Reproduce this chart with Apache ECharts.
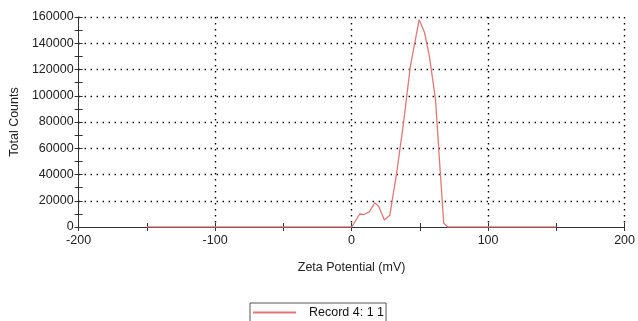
<!DOCTYPE html>
<html><head><meta charset="utf-8">
<script src="https://cdn.jsdelivr.net/npm/echarts@6/dist/echarts.min.js"></script>
<style>html,body{margin:0;padding:0;background:#fff}#c{width:638px;height:321px}</style>
</head><body><div id="c"></div>
<script>
const zeta = [-150, 0, 6, 9, 13, 17, 20, 24, 28, 33, 38, 43, 49.5, 53.5, 57, 61.5, 64.5, 67.5, 70.5, 150];
const counts = [0, 0, 9900, 9500, 11500, 18500, 15500, 5300, 8900, 41000, 79000, 122000, 158000, 148000, 130000, 97000, 49000, 3000, 0, 0];
const xTicks = [-200, -100, 0, 100, 200];
const seriesName = 'Record 4: 1 1';

const data = zeta.map((x, i) => [x, counts[i]]);
const font = 'Liberation Sans, Arial, sans-serif';
const dotted = {color: '#000', width: 1.4, type: [1.4, 4.6]};
const chart = echarts.init(document.getElementById('c'));
chart.setOption({
  animation: false,
  grid: {left: 77, right: 12, top: 17, bottom: 94},
  legend: {
    left: 250, top: 303, itemWidth: 43, itemHeight: 2, itemGap: 0,
    borderColor: '#555', borderWidth: 1, padding: [3, 2, 3, 3], borderRadius: 0,
    textStyle: {fontFamily: font, fontSize: 12.5, color: '#111', padding: [0, 0, 0, 8]},
    icon: 'rect',
    data: [seriesName]
  },
  xAxis: [{
    type: 'value', min: -200, max: 200, interval: 100, position: 'bottom',
    name: 'Zeta Potential (mV)', nameLocation: 'middle', nameGap: 34,
    nameTextStyle: {fontFamily: font, fontSize: 12.5, color: '#222'},
    axisLine: {onZero: false, lineStyle: {color: '#333', width: 1}},
    axisTick: {show: true, length: 4, lineStyle: {color: '#333'}},
    minorTick: {show: true, splitNumber: 2, length: 4, lineStyle: {color: '#333'}},
    axisLabel: {fontFamily: font, fontSize: 12.5, color: '#222', margin: 7,
      formatter: v => xTicks.includes(v) ? String(v) : ''},
    splitLine: {show: true, lineStyle: dotted, showMinLine: false}
  }, {
    type: 'value', min: -200, max: 200, interval: 100, position: 'bottom', offset: 0,
    axisLine: {show: false, onZero: false},
    axisTick: {show: true, inside: true, length: 4, lineStyle: {color: '#333'}},
    minorTick: {show: true, splitNumber: 2, length: 4, lineStyle: {color: '#333'}},
    axisLabel: {show: false}, splitLine: {show: false}
  }],
  yAxis: [{
    type: 'value', min: 0, max: 160000, interval: 20000, position: 'left',
    name: 'Total Counts', nameLocation: 'middle', nameGap: 51, nameRotate: 90,
    nameTextStyle: {fontFamily: font, fontSize: 12.5, color: '#222'},
    axisLine: {show: true, onZero: false, lineStyle: {color: '#333', width: 1}},
    axisTick: {show: true, length: 4, lineStyle: {color: '#333'}},
    minorTick: {show: true, splitNumber: 2, length: 4, lineStyle: {color: '#333'}},
    axisLabel: {fontFamily: font, fontSize: 12.5, color: '#222', margin: 5, formatter: v => String(v)},
    splitLine: {show: true, lineStyle: dotted, showMinLine: false}
  }, {
    type: 'value', min: 0, max: 160000, interval: 20000, position: 'left', offset: 0,
    axisLine: {show: false, onZero: false},
    axisTick: {show: true, inside: true, length: 4, lineStyle: {color: '#333'}},
    minorTick: {show: true, splitNumber: 2, length: 4, lineStyle: {color: '#333'}},
    axisLabel: {show: false}, splitLine: {show: false}
  }],
  series: [{
    name: seriesName, type: 'line', data: data, symbol: 'none', smooth: false,
    lineStyle: {color: '#e07878', width: 1.3}, itemStyle: {color: '#e07878'}
  }]
});
</script></body></html>
